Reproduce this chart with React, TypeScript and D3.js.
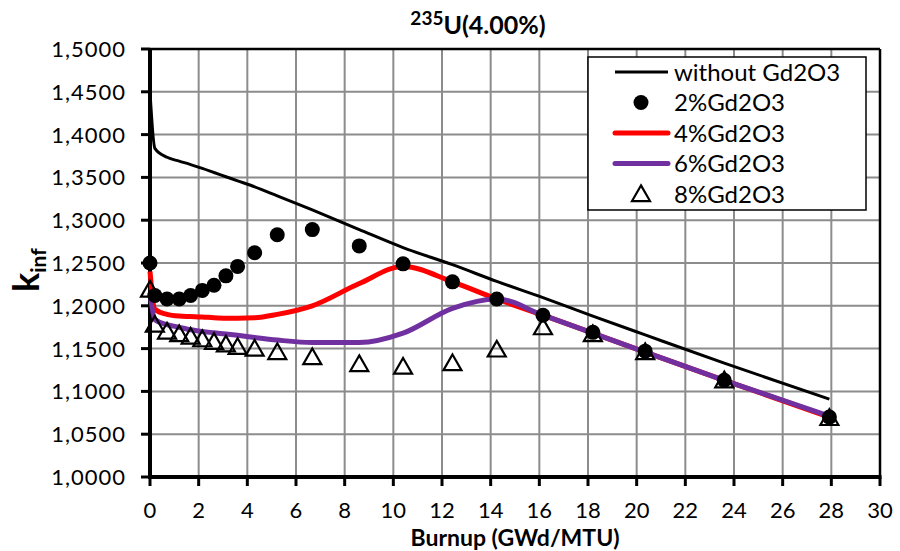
import React from "react";
import * as d3 from "d3";

const burnup = [0, 0.2, 0.7, 1.2, 1.67, 2.15, 2.63, 3.12, 3.6, 4.3, 5.23, 6.67, 8.6, 10.4, 12.43, 14.25, 16.15, 18.2, 20.35, 23.6, 27.92];
const withoutGd = [1.45, 1.384, 1.3735, 1.369, 1.365, 1.3605, 1.3557, 1.3508, 1.346, 1.339, 1.3285, 1.312, 1.289, 1.268, 1.248, 1.2285, 1.2095, 1.188, 1.166, 1.133, 1.091];
const gd2 = [1.25, 1.212, 1.208, 1.208, 1.212, 1.218, 1.224, 1.235, 1.246, 1.262, 1.283, 1.289, 1.27, 1.249, 1.228, 1.208, 1.189, 1.169, 1.147, 1.113, 1.07];
const gd4 = [1.24, 1.196, 1.19, 1.188, 1.1875, 1.187, 1.186, 1.1855, 1.1855, 1.186, 1.19, 1.2, 1.226, 1.246, 1.228, 1.208, 1.189, 1.168, 1.146, 1.113, 1.07];
const gd6 = [1.215, 1.184, 1.178, 1.175, 1.172, 1.17, 1.1685, 1.167, 1.1655, 1.163, 1.16, 1.157, 1.157, 1.168, 1.197, 1.208, 1.189, 1.168, 1.146, 1.113, 1.071];
const gd8 = [1.219, 1.178, 1.17, 1.167, 1.164, 1.161, 1.158, 1.155, 1.152, 1.15, 1.146, 1.14, 1.132, 1.129, 1.133, 1.149, 1.175, 1.167, 1.146, 1.113, 1.069];

const xTicks = [0, 2, 4, 6, 8, 10, 12, 14, 16, 18, 20, 22, 24, 26, 28, 30];
const yTicks = [1.0, 1.05, 1.1, 1.15, 1.2, 1.25, 1.3, 1.35, 1.4, 1.45, 1.5];
const legendLabels = ["without Gd2O3", "2%Gd2O3", "4%Gd2O3", "6%Gd2O3", "8%Gd2O3"];

const FONT = "Lato, 'Open Sans', sans-serif";

export default function App() {
  const W = 900, H = 551;
  const left = 150, right = 880, top = 49, bottom = 477;
  const x = d3.scaleLinear().domain([0, 30]).range([left, right]);
  const y = d3.scaleLinear().domain([1.0, 1.5]).range([bottom, top]);

  const lineGen = (vals: number[]) =>
    d3.line<number>()
      .x((_, i) => x(burnup[i]))
      .y((v) => y(v))
      .curve(d3.curveMonotoneX)(vals) || "";

  const fmt = (v: number) => v.toFixed(4).replace(".", ",");
  const tri = (cx: number, cy: number, s = 18) => {
    const h = s * 0.87;
    return `M${cx},${cy - h * 0.55} L${cx + s / 2},${cy + h * 0.45} L${cx - s / 2},${cy + h * 0.45} Z`;
  };

  const legX = 588, legY = 57, legW = 278, legH = 153;
  const rowY = (i: number) => 72 + i * 30.5;

  return (
    <svg width={W} height={H} style={{ position: "absolute", left: 0, top: 0, background: "#fff" }} fontFamily={FONT}>
      <rect x={0} y={0} width={W} height={H} fill="#fff" />
      {/* grid */}
      {xTicks.map((t) => (
        <line key={"gx" + t} x1={x(t)} x2={x(t)} y1={top} y2={bottom} stroke="#8c8c8c" strokeWidth={2} />
      ))}
      {yTicks.map((t) => (
        <line key={"gy" + t} x1={left} x2={right} y1={y(t)} y2={y(t)} stroke="#8c8c8c" strokeWidth={2} />
      ))}
      {/* border */}
      <line x1={left} x2={right} y1={top} y2={top} stroke="#000" strokeWidth={2.5} />
      <line x1={right} x2={right} y1={top} y2={bottom} stroke="#000" strokeWidth={2.5} />
      {/* axes */}
      <line x1={left} x2={left} y1={top - 1} y2={bottom + 2} stroke="#000" strokeWidth={4} />
      <line x1={left - 2} x2={right + 1.5} y1={bottom} y2={bottom} stroke="#000" strokeWidth={4} />
      {yTicks.map((t) => (
        <line key={"ty" + t} x1={left - 9} x2={left} y1={y(t)} y2={y(t)} stroke="#000" strokeWidth={3} />
      ))}
      {xTicks.map((t) => (
        <line key={"tx" + t} x1={x(t)} x2={x(t)} y1={bottom} y2={bottom + 9} stroke="#000" strokeWidth={3} />
      ))}
      {/* tick labels */}
      {yTicks.map((t) => (
        <text key={"ly" + t} x={126} y={y(t)} dy="0.36em" textAnchor="end" fontSize={22} letterSpacing={1} fill="#000">
          {fmt(t)}
        </text>
      ))}
      {xTicks.map((t) => (
        <text key={"lx" + t} x={x(t)} y={518} textAnchor="middle" fontSize={22} fill="#000">
          {t}
        </text>
      ))}
      {/* series */}
      <path d={lineGen(withoutGd)} fill="none" stroke="#000" strokeWidth={3} />
      <path d={lineGen(gd4)} fill="none" stroke="#ff0000" strokeWidth={5} />
      <path d={lineGen(gd6)} fill="none" stroke="#7030a0" strokeWidth={5} />
      {burnup.map((b, i) => (
        <circle key={"d" + i} cx={x(b)} cy={y(gd2[i])} r={7.5} fill="#000" />
      ))}
      {burnup.map((b, i) => (
        <path key={"t" + i} d={tri(x(b), y(gd8[i]))} fill="none" stroke="#000" strokeWidth={2.2} />
      ))}
      {/* legend */}
      <rect x={legX} y={legY} width={legW} height={legH} fill="#fff" stroke="#000" strokeWidth={1.5} />
      <line x1={615} x2={668} y1={rowY(0)} y2={rowY(0)} stroke="#000" strokeWidth={3} />
      <circle cx={641} cy={rowY(1)} r={7.5} fill="#000" />
      <line x1={615} x2={668} y1={rowY(2)} y2={rowY(2)} stroke="#ff0000" strokeWidth={5} strokeLinecap="round" />
      <line x1={615} x2={668} y1={rowY(3)} y2={rowY(3)} stroke="#7030a0" strokeWidth={5} strokeLinecap="round" />
      <path d={tri(641, rowY(4))} fill="none" stroke="#000" strokeWidth={2.2} />
      {legendLabels.map((l, i) => (
        <text key={"leg" + i} x={674} y={rowY(i)} dy="0.36em" fontSize={24} fill="#000">
          {l}
        </text>
      ))}
      {/* title */}
      <text x={478} y={34} textAnchor="middle" fontWeight="bold" fill="#000">
        <tspan fontSize={19} dy={-9}>235</tspan>
        <tspan fontSize={25} dy={9}>U(4.00%)</tspan>
      </text>
      {/* axis titles */}
      <text x={515} y={546} textAnchor="middle" fontWeight="bold" fontSize={23} fill="#000">
        Burnup (GWd/MTU)
      </text>
      <text transform="translate(39,292) rotate(-90)" fontWeight="bold" fill="#000">
        <tspan fontSize={36}>k</tspan>
        <tspan fontSize={21} dy={7}>inf</tspan>
      </text>
    </svg>
  );
}
